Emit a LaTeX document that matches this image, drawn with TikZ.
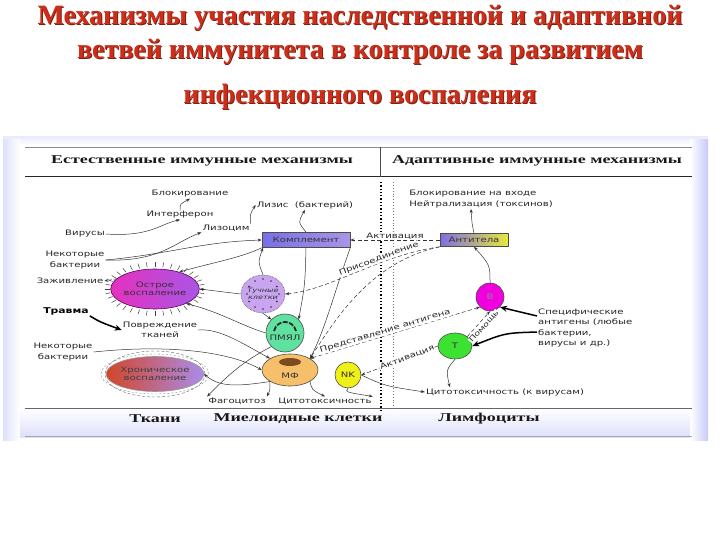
\documentclass[tikz,border=0pt]{standalone}
\usepackage{fontspec}
\setmainfont{Liberation Serif}
\newfontfamily\lblfont[FakeStretch=1.35]{DejaVu Sans}
\newfontfamily\hdrfont[FakeStretch=1.5]{Liberation Serif}
\usetikzlibrary{shapes.geometric,arrows.meta,calc}

\definecolor{titlered}{RGB}{205,45,25}
\definecolor{titleshd}{RGB}{120,35,20}
\definecolor{panelbg}{RGB}{222,224,250}
\definecolor{acuteL}{RGB}{228,50,190}
\definecolor{acuteR}{RGB}{170,85,230}
\definecolor{chronL}{RGB}{210,70,40}
\definecolor{chronR}{RGB}{170,140,235}
\definecolor{mastfill}{RGB}{200,165,238}
\definecolor{pmnfill}{RGB}{95,225,160}
\definecolor{mphfill}{RGB}{245,192,105}
\definecolor{mphnuc}{RGB}{125,75,30}
\definecolor{nkfill}{RGB}{240,240,25}
\definecolor{complL}{RGB}{120,110,230}
\definecolor{complM}{RGB}{95,220,80}
\definecolor{complR}{RGB}{170,150,230}
\definecolor{abodyL}{RGB}{130,110,225}
\definecolor{abodyR}{RGB}{232,232,60}
\definecolor{bfill}{RGB}{240,0,220}
\definecolor{tfill}{RGB}{60,225,50}

\tikzset{
  ttl/.style={font=\bfseries\fontsize{28}{30}\selectfont, text=titlered, inner sep=0pt},
  hdr/.style={font=\hdrfont\bfseries\fontsize{12}{13}\selectfont, text=black!90, inner sep=1pt},
  lbl/.style={font=\lblfont\fontsize{7.5}{10.5}\selectfont, text=black!85, inner sep=1pt, align=center},
  rlbl/.style={lbl, fill=white, inner sep=0.5pt},
  cellbox/.style={draw=black!70, line width=0.6pt, minimum height=15pt, font=\lblfont\fontsize{7.5}{9}\selectfont, text=black!80},
  cell/.style={draw=black!70, line width=0.6pt, font=\lblfont\fontsize{7.5}{9}\selectfont, text=black!80, inner sep=0pt, align=center},
  conn/.style={-{Stealth[length=4pt,width=3pt]}, black!80, line width=0.5pt},
  dconn/.style={conn, dash pattern=on 4pt off 2.5pt},
  thk/.style={-{Stealth[length=7pt,width=6pt]}, black, line width=1.5pt}
}

\begin{document}
\begin{tikzpicture}[x=1pt,y=-1pt]
\useasboundingbox (0,0) rectangle (720,540);

% title
\foreach \ty/\ttxt [count=\i] in {18/{Механизмы участия наследственной и адаптивной},
    52/{ветвей иммунитета в контроле за развитием}, 97/{инфекционного воспаления}} {
  \node[ttl, text=titleshd] at (361,\ty+1) {\ttxt};
  \node[ttl] (title\i) at (360,\ty) {\ttxt};
}

% panel
\shade[top color=panelbg!60, bottom color=white] (3,137) rectangle (708,146);
\shade[left color=panelbg, right color=white] (3,140) rectangle (20,440);
\fill[white] (20,144) rectangle (690,408);
\shade[left color=white, right color=panelbg!90!blue] (690,140) rectangle (708,440);
\shade[top color=white, bottom color=panelbg] (20,408) rectangle (690,437);

\draw[black!45, line width=0.6pt] (25,147) -- (692,147);
\draw[black!85, line width=1pt] (25,177) -- (692,177);
\draw[black!70, line width=0.8pt] (380,147) -- (380,177);
\draw[black!60, line width=0.6pt] (25,408) -- (692,408);
\draw[black!35, line width=0.6pt] (25,436) -- (692,436);

\node[hdr] (hnat) at (202,161) {Естественные иммунные механизмы};
\node[hdr] (hadp) at (537,161) {Адаптивные иммунные механизмы};
\node[hdr] (ftis) at (155,419) {Ткани};
\node[hdr] (fmye) at (298,419) {Миелоидные клетки};
\node[hdr] (flym) at (489,419) {Лимфоциты};

\draw[black, line width=1.3pt, dotted] (381,182) -- (381,410);
\draw[black!55, line width=0.9pt, dotted] (393,182) -- (393,410);

% cells
\node[cell, ellipse, minimum width=86pt, minimum height=40pt, shade,
  left color=acuteL, right color=acuteR, draw=violet!70!black] (acute) at (155,289) {Острое\\[-1pt]воспаление};
\foreach \a in {0,10,...,350}
  \draw[black!75, line width=0.5pt] ($(acute.center)+(\a:45 and 22)$) -- ($(acute.center)+(\a:50 and 27)$);

\draw[black!60, dash pattern=on 3pt off 2pt] (155,374) ellipse (50pt and 23pt);
\draw[black!45, dash pattern=on 2pt off 2pt] (155,374) ellipse (54pt and 20pt);
\node[cell, ellipse, minimum width=84pt, minimum height=35pt, shade,
  left color=chronL, right color=chronR, draw=black!40, text=black!75] (chronic) at (155,374) {Хроническое\\[-1pt]воспаление};

\node[cell, ellipse, minimum width=40pt, minimum height=38pt, densely dotted,
  fill=mastfill, font=\lblfont\itshape\fontsize{6}{7}\selectfont] (mast) at (263,294) {Тучные\\клетки};
\foreach \a in {0,30,...,330}
  \fill[black!80] ($(mast.center)+(\a:16 and 15)$) circle (0.9pt);

\node[cell, circle, minimum size=38pt, fill=pmnfill] (pmn) at (285,333) {\\[6pt]ПМЯЛ};
\draw[black!85, line width=1.8pt, dash pattern=on 5pt off 1.5pt] (274,331) .. controls (277,319) and (293,319) .. (296,331);

\node[cell, ellipse, minimum width=56pt, minimum height=32pt, fill=mphfill] (mph) at (290,370) {\\[8pt]МФ};
\fill[mphnuc] (290,362) ellipse (11pt and 4pt);

\node[cell, circle, minimum size=26pt, fill=nkfill] (nk) at (348,375) {NK};

\node[cellbox, minimum width=88pt, shade, left color=complL, middle color=complM, right color=complR]
  (compl) at (306,240) {Комплемент};
\node[cellbox, minimum width=68pt, minimum height=13pt, shade, left color=abodyL, right color=abodyR]
  (abody) at (474,240) {Антитела};

\node[cell, circle, minimum size=28pt, fill=bfill, text=black!45] (bcell) at (490,297) {B};
\node[cell, ellipse, minimum width=34pt, minimum height=26pt, fill=tfill] (tcell) at (455,346) {T};

% labels
\node[lbl] (blk) at (190,194) {Блокирование};
\node[lbl] (ifn) at (180,215) {Интерферон};
\node[lbl] (lys) at (305,205) {Лизис \ (бактерий)};
\node[lbl] (lzm) at (226,228) {Лизоцим};
\node[lbl] (vir) at (85,234) {Вирусы};
\node[lbl] (bac1) at (75,260) {Некоторые\\бактерии};
\node[lbl] (heal) at (70,281) {Заживление};
\node[lbl, font=\lblfont\bfseries\fontsize{8}{10}\selectfont, text=black] (trauma) at (66,311) {Травма};
\node[lbl] (dmg) at (160,330) {Повреждение\\тканей};
\node[lbl] (bac2) at (63,352) {Некоторые\\бактерии};
\node[lbl] (phag) at (237,401) {Фагоцитоз};
\node[lbl] (cyto) at (325,401) {Цитотоксичность};
\node[lbl] (cytov) at (505,392) {Цитотоксичность (к вирусам)};
\node[lbl, align=left] (blkin) at (481,199) {Блокирование на входе\\Нейтрализация (токсинов)};
\node[lbl, align=left, anchor=west] (spec) at (537,328) {Специфические\\антигены (любые\\бактерии,\\вирусы и др.)};

% innate connectors
\draw[conn] (ifn.north) .. controls (180,204) .. (blk.south);
\draw[conn] (vir.east) .. controls (150,237) and (160,224) .. (ifn.south);
\draw[conn] (lzm.north east) .. controls (250,214) .. (lys.west);
\draw[conn] (bac1.east) .. controls (160,262) and (175,242) .. (lzm.south west);
\draw[conn] (bac1.east) .. controls (170,254) and (200,242) .. (compl.west);
\draw[conn] (compl.north) .. controls (298,222) .. (lys.south);
\draw[conn] (compl.south west) .. controls (240,258) and (215,262) .. (acute.35);
\draw[conn, densely dashed] (acute.165) -- (heal.east);
\draw[conn] (mast.west) -- (acute.east);
\draw[conn] (mast.north) .. controls (258,262) .. (mast.north |- compl.south);
\draw[conn] (mast.south) -- (pmn.north west);
\draw[conn] (pmn.west) .. controls (240,325) and (220,312) .. (acute.-25);
\draw[thk] (trauma.south east) .. controls (100,322) .. (dmg.west);
\draw[conn] (dmg.east) .. controls (220,328) and (245,345) .. (mph.north west);
\draw[conn] (bac2.east) .. controls (170,344) and (230,352) .. (mph.west);
\draw[conn] (mph.south west) .. controls (240,386) and (220,388) .. (chronic.east);
\draw[conn] (pmn.south west) .. controls (245,360) and (228,375) .. (phag.north west);
\draw[conn] (mph.south west) .. controls (270,390) .. (phag.north east);
\draw[conn] (mph.south east) .. controls (312,390) .. (cyto.north);
\draw[conn] (nk.south) .. controls (345,392) .. (cyto.north east);
\draw[conn] (compl.south) .. controls (305,285) .. (pmn.north east);
\draw[conn] (compl.south east) .. controls (335,290) and (325,330) .. (mph.north east);

% adaptive connectors
\draw[conn] (nk.east) .. controls (385,386) .. (cytov.west);
\draw[conn] (tcell.south) .. controls (446,370) .. ($(cytov.north west)+(25,0)$);
\draw[conn] (bcell.north) .. controls (490,265) .. (abody.south);
\draw[conn] (abody.north) .. controls (472,224) .. ($(blkin.south)+(-10,0)$);
\draw[thk] ($(spec.west)+(0,-12)$) .. controls (520,312) .. (bcell.south east);
\draw[thk] ($(spec.west)+(0,4)$) .. controls (505,333) .. (tcell.east);

\draw[dconn] (abody.west) -- node[rlbl, above, sloped] {Активация} (compl.east);
\draw[dconn] (abody.south west) .. controls (380,255) and (330,290) .. node[rlbl, pos=0.35, above, sloped] {Присоединение} (mast.east);
\draw[dconn] (abody.south west) .. controls (370,262) and (335,320) .. (mph.north east);
\draw[dconn, {Stealth[length=4pt,width=3pt]}-{Stealth[length=4pt,width=3pt]}] (mph.north east) -- node[rlbl, pos=0.45, above, sloped] {Представление антигена} (bcell.south west);
\draw[dconn] (tcell.west) -- node[rlbl, pos=0.4, sloped] {Активация} (nk.east);
\draw[dconn] (tcell.north east) -- node[rlbl, pos=0.55, below=2pt, sloped, font=\lblfont\fontsize{7}{8}\selectfont] {Помощь} (bcell.south);
\end{tikzpicture}
\end{document}
